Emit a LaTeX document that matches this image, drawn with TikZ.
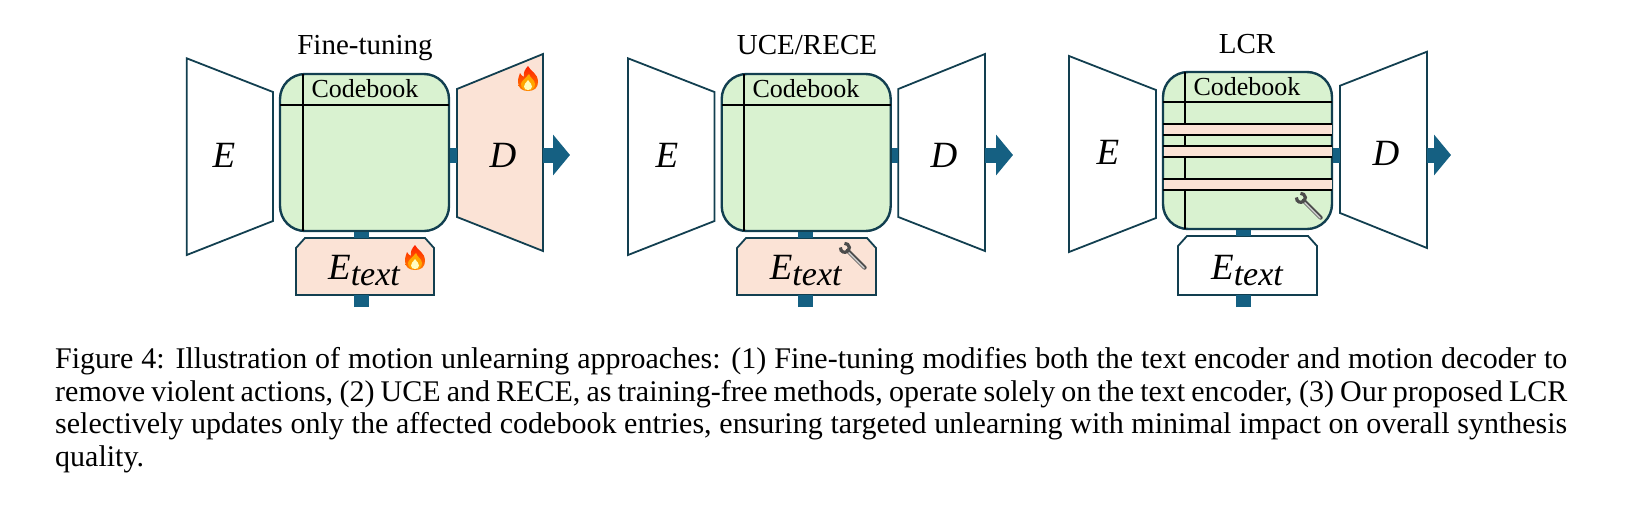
\documentclass[tikz,border=0pt]{standalone}
\usepackage{fontspec}
\usepackage{xcolor}
\setmainfont{Liberation Serif}
\usetikzlibrary{arrows.meta}
\definecolor{edgeblue}{HTML}{123F50}
\definecolor{connblue}{HTML}{156082}
\definecolor{cbgreen}{HTML}{D9F2D0}
\definecolor{peach}{HTML}{FBE3D6}
\newcommand{\etext}{E\raisebox{-6pt}{\fontsize{34}{34}\selectfont text}}
\tikzset{
  block/.style={draw=edgeblue,line width=1.8pt,line join=miter},
  conn/.style={draw=connblue,line width=15pt},
  codebook/.style={draw=edgeblue,fill=cbgreen,line width=2.4pt,rounded corners=25pt,minimum width=169pt,minimum height=157pt,inner sep=0pt},
  cbline/.style={draw=black,line width=2.2pt},
  stripe/.style={draw=none,fill=peach},
  title/.style={font=\fontsize{29}{29}\selectfont,inner sep=0pt,anchor=base},
  cblabel/.style={font=\fontsize{26}{26}\selectfont,inner sep=0pt,anchor=base},
  letter/.style={font=\fontsize{37}{37}\selectfont\itshape,inner sep=0pt,anchor=base},
  flame/.pic={
    \begin{scope}[y=1pt]
    \shade[top color=red!75!orange,bottom color=orange] (0,13) .. controls (2,8) and (10,6) .. (10,-3) .. controls (10,-9) and (6,-12) .. (0,-12) .. controls (-6,-12) and (-10,-9) .. (-10,-3) .. controls (-10,1) and (-9,3) .. (-8,6) .. controls (-7,4) and (-6,3) .. (-4,2) .. controls (-5,6) and (-3,10) .. (0,13) -- cycle;
    \fill[orange!70!yellow] (1,5) .. controls (2,1) and (7,-1) .. (7,-5) .. controls (7,-9) and (4,-11.5) .. (0,-11.5) .. controls (-4,-11.5) and (-7,-9) .. (-7,-5) .. controls (-7,-2) and (-2,1) .. (1,5) -- cycle;
    \fill[yellow!25] (0,-1) .. controls (2,-4) and (4,-5) .. (4,-7.5) .. controls (4,-10) and (2,-11) .. (0,-11) .. controls (-2,-11) and (-4,-10) .. (-4,-7.5) .. controls (-4,-5) and (-2,-4) .. (0,-1) -- cycle;
    \end{scope}
  },
  wrench/.pic={
    \begin{scope}[rotate=-45]
    \draw[line width=4.2pt,gray!60!black,line cap=round] (-9,0) -- (15,0);
    \draw[line width=1.4pt,gray!35,line cap=round] (-9,0.6) -- (15,0.6);
    \draw[line width=3.2pt,gray!60!black] (-16.4,-2.9) arc[start angle=220,end angle=500,radius=4.5];
    \end{scope}
  },
}
\begin{document}
\begin{tikzpicture}[x=1pt,y=-1pt]
\useasboundingbox (0,0) rectangle (1629,504);
% 第一组 Fine-tuning
\node[title] (titleA) at (365,54) {Fine-tuning};
\draw[block] (186.7,58.3) -- (273,92) -- (273,221) -- (186.7,255) -- cycle;
\node[letter] (encA) at (224,167) {E};
\draw[block,fill=peach] (457,89) -- (543,54) -- (543,251) -- (457,217) -- cycle;
\node[letter] (decA) at (503,167) {D};
\node[codebook] (cbA) at (364.5,152.5) {};
\draw[cbline] (303,74) -- (303,231);
\draw[cbline] (280,105) -- (449,105);
\node[cblabel] (cblabelA) at (365,97) {Codebook};
\draw[block,fill=peach] (296,295) -- (296,248) -- (305,238) -- (425,238) -- (434,248) -- (434,295) -- cycle;
\node[letter] (etA) at (364,279) {\etext};
\coordinate (DwA) at (457,155);
\coordinate (DeA) at (543,155);
\coordinate (outA) at (570,155);
\coordinate (inA) at (361.5,307);
\draw[conn] (cbA.east |- DwA) -- (DwA);
\draw[conn,-{Triangle[length=17pt,width=40pt]}] (DeA) -- (outA);
\draw[conn] (inA) -- (inA |- 0,295);
\draw[conn] (inA |- 0,238) -- (inA |- cbA.south);
\pic at (528,79) {flame};
\pic at (415,258) {flame};
% 第二组 UCE/RECE
\node[title] (titleB) at (807,54) {UCE/RECE};
\draw[block] (628,58.3) -- (714.5,92) -- (714.5,221) -- (628,255) -- cycle;
\node[letter] (encB) at (667,167) {E};
\draw[block] (898.3,89) -- (985,54) -- (985,251) -- (898.3,217) -- cycle;
\node[letter] (decB) at (944,167) {D};
\node[codebook] (cbB) at (806.2,152.5) {};
\draw[cbline] (744,74) -- (744,231);
\draw[cbline] (721.7,105) -- (890.7,105);
\node[cblabel] (cblabelB) at (806,97) {Codebook};
\draw[block,fill=peach] (737,295) -- (737,248) -- (746,238) -- (867,238) -- (876,248) -- (876,295) -- cycle;
\node[letter] (etB) at (805.7,279) {\etext};
\coordinate (DwB) at (898.3,155);
\coordinate (DeB) at (985,155);
\coordinate (outB) at (1013,155);
\coordinate (inB) at (805.5,307);
\draw[conn] (cbB.east |- DwB) -- (DwB);
\draw[conn,-{Triangle[length=17pt,width=40pt]}] (DeB) -- (outB);
\draw[conn] (inB) -- (inB |- 0,295);
\draw[conn] (inB |- 0,238) -- (inB |- cbB.south);
\pic at (854,257) {wrench};
% 第三组 LCR
\node[title] (titleC) at (1247,53) {LCR};
\draw[block] (1069,56) -- (1156,90) -- (1156,218) -- (1069,252) -- cycle;
\node[letter] (encC) at (1108,164) {E};
\draw[block] (1340,85.7) -- (1427,51.7) -- (1427,248) -- (1340,213) -- cycle;
\node[letter] (decC) at (1386,165) {D};
\node[codebook] (cbC) at (1247.5,150.5) {};
\draw[cbline] (1185,72) -- (1185,229);
\draw[cbline] (1163,102) -- (1332,102);
% 被修改的三行
\fill[stripe] (1164,124.3) rectangle (1332,135);
\fill[stripe] (1164,146) rectangle (1332,157.3);
\fill[stripe] (1164,178.7) rectangle (1332,190);
\draw[cbline] (1163,124.3) -- (1332,124.3);
\draw[cbline] (1163,135) -- (1332,135);
\draw[cbline] (1163,146) -- (1332,146);
\draw[cbline] (1163,157.3) -- (1332,157.3);
\draw[cbline] (1163,178.7) -- (1332,178.7);
\draw[cbline] (1163,190) -- (1332,190);
\node[cblabel] (cblabelC) at (1247,95) {Codebook};
\draw[block] (1178,295) -- (1178,246) -- (1187,236) -- (1308,236) -- (1317,246) -- (1317,295) -- cycle;
\node[letter] (etC) at (1247,279) {\etext};
\coordinate (DwC) at (1340,155);
\coordinate (DeC) at (1427,155);
\coordinate (outC) at (1451,155);
\coordinate (inC) at (1243,307);
\draw[conn] (cbC.east |- DwC) -- (DwC);
\draw[conn,-{Triangle[length=17pt,width=40pt]}] (DeC) -- (outC);
\draw[conn] (inC) -- (inC |- 0,295);
\draw[conn] (inC |- 0,236) -- (inC |- cbC.south);
\pic at (1310,207) {wrench};
% 图注
\node[anchor=north west,inner sep=0pt,text width=1512pt,align=justify,font=\fontsize{30}{32.8}\selectfont] (caption) at (55,347)
{Figure 4: Illustration of motion unlearning approaches: (1) Fine-tuning modifies both the text encoder and motion decoder to remove violent actions, (2) UCE and RECE, as training-free methods, operate solely on the text encoder, (3) Our proposed LCR selectively updates only the affected codebook entries, ensuring targeted unlearning with minimal impact on overall synthesis quality.};
\end{tikzpicture}
\end{document}
